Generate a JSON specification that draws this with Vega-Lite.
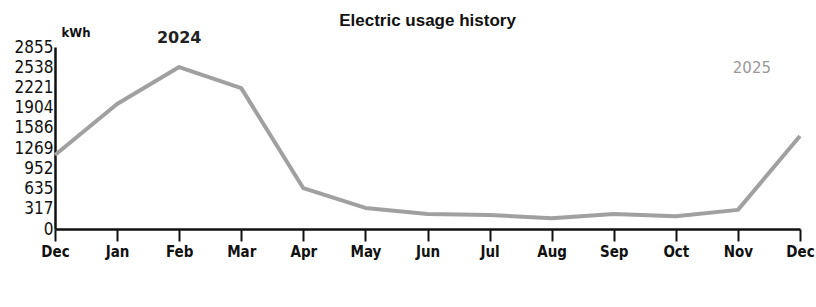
{
  "$schema": "https://vega.github.io/schema/vega-lite/v6.json",
  "width": 745,
  "height": 182,
  "autosize": "none",
  "padding": {"left": 55, "top": 47, "right": 16, "bottom": 78},
  "background": "white",
  "title": {
    "text": "Electric usage history",
    "font": "Liberation Sans",
    "fontSize": 17,
    "fontWeight": "bold",
    "color": "#111",
    "offset": -4,
    "anchor": "middle"
  },
  "config": {
    "view": {"stroke": null}
  },
  "datasets": {
    "usage": [
      {"month": "Dec 2023", "kwh": 1160},
      {"month": "Jan 2024", "kwh": 1960},
      {"month": "Feb 2024", "kwh": 2540},
      {"month": "Mar 2024", "kwh": 2210},
      {"month": "Apr 2024", "kwh": 640},
      {"month": "May 2024", "kwh": 330},
      {"month": "Jun 2024", "kwh": 235},
      {"month": "Jul 2024", "kwh": 220},
      {"month": "Aug 2024", "kwh": 170},
      {"month": "Sep 2024", "kwh": 235},
      {"month": "Oct 2024", "kwh": 200},
      {"month": "Nov 2024", "kwh": 300},
      {"month": "Dec 2024", "kwh": 1460}
    ],
    "years": [
      {"month": "Feb 2024", "kwh": 2855, "label": "2024", "kind": "a"},
      {"month": "Nov 2024", "kwh": 2400, "label": "2025", "kind": "b"}
    ]
  },
  "encoding": {
    "x": {
      "field": "month",
      "type": "ordinal",
      "sort": null,
      "scale": {"type": "point", "padding": 0},
      "axis": {
        "title": null,
        "labelAngle": 0,
        "labelExpr": "split(datum.value, ' ')[0]",
        "labelFont": "DejaVu Sans Condensed",
        "labelFontSize": 15,
        "labelFontWeight": "bold",
        "labelColor": "#111",
        "labelPadding": 3,
        "labelBound": false,
        "labelOverlap": false,
        "domainColor": "#111",
        "domainWidth": 2.5,
        "tickColor": "#111",
        "tickWidth": 2,
        "tickSize": 12,
        "grid": false
      }
    },
    "y": {
      "field": "kwh",
      "type": "quantitative",
      "scale": {"domain": [0, 2855], "nice": false},
      "axis": {
        "values": [0, 317, 635, 952, 1269, 1586, 1904, 2221, 2538, 2855],
        "format": "d",
        "labelOverlap": false,
        "labelFlush": false,
        "labelBound": false,
        "labelSeparation": 0,
        "title": "kWh",
        "titleAngle": 0,
        "titleAlign": "left",
        "titleBaseline": "bottom",
        "titleX": 6,
        "titleY": -8,
        "titleFont": "DejaVu Sans Condensed",
        "titleFontSize": 13,
        "titleFontWeight": "bold",
        "titleColor": "#111",
        "labelFont": "DejaVu Sans Condensed",
        "labelFontSize": 17,
        "labelColor": "#111",
        "labelPadding": 2,
        "ticks": false,
        "domainColor": "#111",
        "domainWidth": 2.5,
        "grid": false
      }
    }
  },
  "layer": [
    {
      "data": {"name": "usage"},
      "mark": {"type": "line", "color": "#a0a0a0", "strokeWidth": 4, "strokeJoin": "round"}
    },
    {
      "data": {"name": "years"},
      "transform": [{"filter": "datum.kind == 'a'"}],
      "mark": {"type": "text", "font": "DejaVu Sans", "fontSize": 16, "fontWeight": "bold", "baseline": "bottom", "dy": -1, "color": "#222"},
      "encoding": {
        "text": {"field": "label"}
      }
    },
    {
      "data": {"name": "years"},
      "transform": [{"filter": "datum.kind == 'b'"}],
      "mark": {"type": "text", "font": "DejaVu Sans", "fontSize": 15, "baseline": "bottom", "dx": 14, "color": "#999"},
      "encoding": {
        "text": {"field": "label"}
      }
    }
  ]
}
